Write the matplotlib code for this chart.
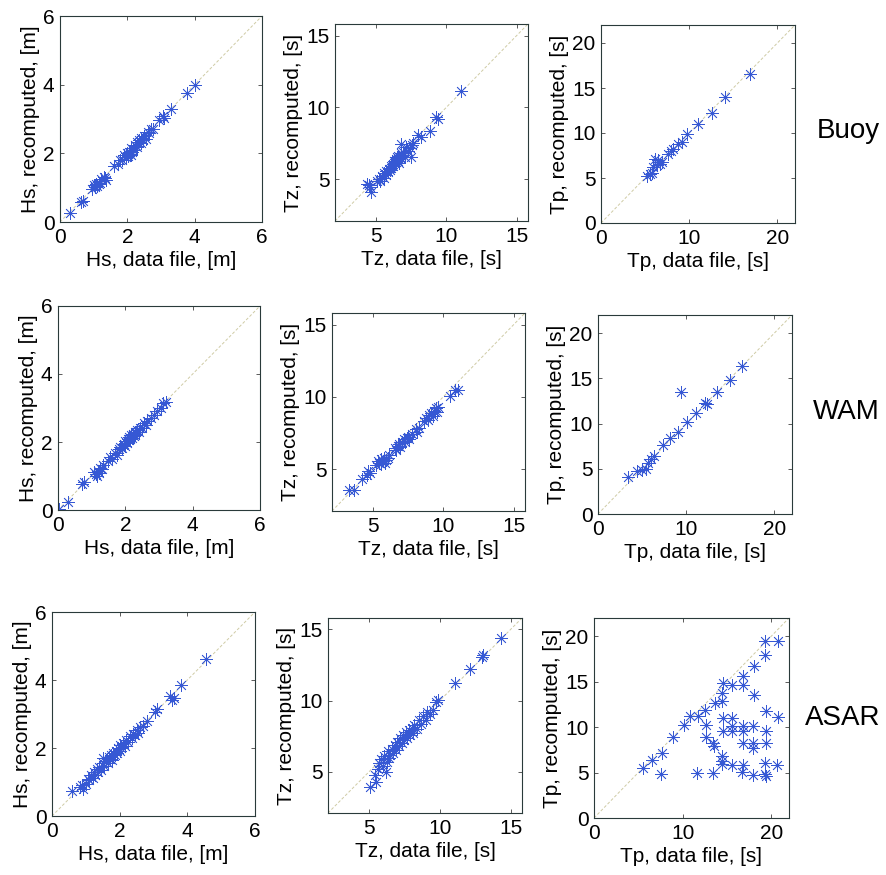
import numpy as np
import matplotlib.pyplot as plt

plt.rcParams['font.family'] = ['Liberation Sans', 'DejaVu Sans']

# Buoy
buoy_hs_x = [0.30, 0.62, 0.68, 0.95, 1.02, 1.05, 1.08, 1.10, 1.15, 1.18, 1.22, 1.30, 1.35, 1.38,
             1.60, 1.72, 1.78, 1.85, 1.90, 1.95, 2.00, 2.02, 2.05, 2.08, 2.10, 2.12, 2.15, 2.18,
             2.22, 2.25, 2.28, 2.30, 2.35, 2.40, 2.42, 2.48, 2.50, 2.55, 2.60, 2.65, 2.70, 2.75,
             2.95, 3.05, 3.10, 3.30, 3.78, 4.00]
buoy_hs_y = [0.27, 0.58, 0.62, 0.95, 1.08, 1.02, 1.12, 1.05, 1.10, 1.15, 1.25, 1.30, 1.28, 1.22,
             1.62, 1.68, 1.82, 1.80, 1.95, 1.88, 2.02, 1.92, 2.05, 1.98, 2.15, 1.95, 2.05, 2.10,
             2.25, 2.20, 2.32, 2.18, 2.38, 2.30, 2.45, 2.38, 2.50, 2.42, 2.62, 2.58, 2.72, 2.70,
             2.98, 3.08, 3.02, 3.30, 3.75, 3.98]
buoy_tz_x = [4.35, 4.55, 4.68, 4.50, 5.05, 5.25, 5.30, 5.45, 5.55, 5.60, 5.70, 5.75, 5.85, 5.90,
             6.00, 6.05, 6.10, 6.20, 6.25, 6.30, 6.35, 6.40, 6.45, 6.50, 6.55, 6.60, 6.65, 6.70,
             6.75, 6.80, 6.80, 6.90, 6.95, 7.05, 7.15, 7.25, 7.45, 7.50, 7.55, 7.65, 8.00, 8.20,
             8.85, 9.30, 9.40, 11.05]
buoy_tz_y = [4.70, 4.45, 4.10, 4.60, 4.85, 5.05, 4.90, 5.20, 5.10, 5.45, 5.30, 5.60, 5.50, 5.75,
             5.65, 5.95, 5.80, 6.05, 5.90, 6.25, 6.10, 6.40, 6.20, 6.55, 6.30, 6.65, 6.15, 6.45,
             6.85, 6.60, 7.45, 6.90, 6.70, 6.55, 7.25, 7.00, 7.15, 6.55, 7.40, 7.55, 8.10, 7.95,
             8.35, 9.30, 9.20, 11.15]
buoy_tp_x = [5.25, 5.50, 5.80, 5.95, 6.10, 6.30, 6.50, 6.70, 6.90, 7.60, 7.90, 8.20, 8.75, 9.20,
             9.80, 11.05, 12.55, 14.05, 16.90]
buoy_tp_y = [5.20, 5.45, 5.60, 6.25, 7.15, 6.50, 6.95, 6.60, 6.80, 7.70, 8.00, 8.25, 8.80, 9.00,
             9.85, 11.05, 12.25, 14.05, 16.55]

# WAM
wam_hs_x = [0.02, 0.30, 0.72, 0.78, 1.08, 1.12, 1.15, 1.18, 1.22, 1.25, 1.30, 1.35, 1.50, 1.55,
            1.60, 1.70, 1.75, 1.80, 1.85, 1.90, 1.95, 1.98, 2.00, 2.05, 2.08, 2.10, 2.12, 2.15,
            2.18, 2.20, 2.22, 2.25, 2.28, 2.30, 2.32, 2.35, 2.40, 2.45, 2.50, 2.55, 2.60, 2.65,
            2.75, 2.85, 2.95, 3.05, 3.12, 3.20]
wam_hs_y = [0.03, 0.25, 0.76, 0.82, 1.12, 1.05, 1.00, 1.15, 1.08, 1.25, 1.22, 1.32, 1.45, 1.55,
            1.50, 1.68, 1.62, 1.78, 1.85, 1.82, 1.95, 1.88, 2.02, 1.98, 2.10, 2.05, 2.15, 2.08,
            2.20, 2.12, 2.25, 2.18, 2.30, 2.22, 2.28, 2.35, 2.30, 2.42, 2.40, 2.55, 2.50, 2.62,
            2.70, 2.80, 2.90, 3.00, 3.15, 3.18]
wam_tz_x = [3.30, 3.65, 4.20, 4.55, 4.65, 4.80, 5.20, 5.35, 5.45, 5.55, 5.60, 5.70, 5.80, 5.85,
            5.95, 6.05, 6.15, 6.55, 6.65, 6.75, 6.85, 6.95, 7.05, 7.20, 7.30, 7.40, 7.50, 7.60,
            7.75, 8.05, 8.15, 8.25, 8.65, 8.80, 8.90, 9.00, 9.15, 9.25, 9.35, 9.45, 9.55, 9.65,
            10.50, 10.80, 11.05]
wam_tz_y = [3.55, 3.55, 4.30, 4.60, 4.90, 4.75, 5.30, 5.55, 5.40, 5.70, 5.35, 5.55, 5.75, 5.45,
            5.65, 5.80, 5.95, 6.45, 6.30, 6.60, 6.75, 6.50, 6.90, 7.05, 6.85, 7.15, 7.25, 7.05,
            7.40, 7.75, 7.60, 7.85, 8.35, 8.55, 8.40, 8.75, 8.90, 8.65, 9.05, 9.20, 8.95, 9.30,
            10.05, 10.45, 10.50]
wam_tp_x = [3.40, 4.40, 5.00, 5.40, 5.70, 6.05, 6.30, 7.40, 8.15, 9.10, 9.40, 10.10, 11.10, 12.15,
            12.40, 13.50, 15.00, 16.30]
wam_tp_y = [4.10, 4.70, 4.85, 5.00, 5.60, 6.10, 6.40, 7.60, 8.35, 9.10, 13.45, 10.20, 11.15, 12.30,
            12.20, 13.50, 14.80, 16.35]

# ASAR
asar_hs_x = [0.58, 0.82, 0.88, 0.92, 1.00, 1.05, 1.10, 1.15, 1.20, 1.25, 1.28, 1.32, 1.35, 1.40,
             1.45, 1.50, 1.52, 1.55, 1.60, 1.65, 1.68, 1.70, 1.75, 1.78, 1.80, 1.85, 1.88, 1.92,
             1.95, 2.00, 2.02, 2.05, 2.10, 2.15, 2.20, 2.25, 2.30, 2.35, 2.40, 2.45, 2.50, 2.55,
             2.60, 2.70, 2.80, 3.05, 3.10, 3.50, 3.55, 3.60, 3.80, 4.55]
asar_hs_y = [0.75, 0.85, 0.92, 0.80, 0.95, 1.10, 1.05, 1.20, 1.12, 1.30, 1.22, 1.38, 1.28, 1.45,
             1.35, 1.55, 1.70, 1.48, 1.62, 1.55, 1.75, 1.68, 1.80, 1.65, 1.85, 1.78, 1.92, 1.85,
             2.00, 1.92, 2.08, 2.00, 2.15, 2.05, 2.25, 2.18, 2.35, 2.28, 2.42, 2.38, 2.52, 2.45,
             2.62, 2.65, 2.78, 3.05, 3.15, 3.52, 3.42, 3.48, 3.85, 4.62]
asar_tz_x = [5.05, 5.50, 5.45, 5.60, 5.70, 5.85, 5.95, 6.05, 6.20, 6.25, 6.35, 6.40, 6.50, 6.60,
             6.70, 6.80, 6.90, 7.00, 7.10, 7.20, 7.30, 7.40, 7.50, 7.60, 7.70, 7.80, 7.90, 8.00,
             8.10, 8.20, 8.40, 8.50, 8.70, 8.80, 9.00, 9.10, 9.30, 9.50, 9.70, 9.90, 11.05, 12.10,
             12.95, 13.05, 14.30]
asar_tz_y = [3.90, 4.25, 4.75, 5.20, 5.60, 5.90, 5.40, 6.10, 5.00, 5.70, 6.45, 5.95, 6.20, 6.60,
             6.35, 6.85, 6.50, 7.10, 6.80, 7.35, 7.00, 7.60, 7.20, 7.80, 7.40, 7.95, 7.55, 8.10,
             7.75, 8.30, 8.00, 8.60, 8.35, 8.90, 8.60, 9.20, 9.05, 9.35, 9.90, 10.05, 11.20, 12.25,
             13.05, 13.20, 14.40]
asar_tp_x = [5.56, 6.49, 7.62, 7.51, 8.93, 10.14, 10.81, 11.64, 11.75, 12.50, 12.61, 12.61, 13.44,
             13.44, 13.50, 13.63, 14.49, 14.49, 14.56, 14.56, 14.49, 14.49, 14.49, 14.56, 15.62,
             15.62, 15.62, 15.62, 15.62, 16.82, 16.82, 16.82, 16.82, 16.82, 16.82, 16.74, 17.94,
             17.98, 17.94, 17.94, 18.02, 18.02, 19.25, 19.25, 19.37, 19.37, 19.37, 19.25, 19.25,
             19.37, 20.76, 20.76, 20.68]
asar_tp_y = [5.50, 6.42, 7.15, 4.84, 8.91, 10.27, 11.18, 4.95, 11.18, 11.92, 10.27, 8.91, 4.95,
             8.25, 7.88, 12.65, 13.75, 12.83, 11.00, 9.61, 6.78, 6.23, 5.98, 14.85, 14.67,
             11.00, 10.16, 9.61, 5.87, 15.66, 14.67, 10.16, 9.61, 8.25, 5.79, 5.06, 10.16,
             8.25, 7.70, 4.69, 16.76, 13.57, 19.43, 17.97, 11.73, 9.61, 8.25, 6.05, 4.88,
             4.66, 19.43, 11.11, 5.79]

rows = ['Buoy', 'WAM', 'ASAR']
data = [
    [(buoy_hs_x, buoy_hs_y), (buoy_tz_x, buoy_tz_y), (buoy_tp_x, buoy_tp_y)],
    [(wam_hs_x, wam_hs_y), (wam_tz_x, wam_tz_y), (wam_tp_x, wam_tp_y)],
    [(asar_hs_x, asar_hs_y), (asar_tz_x, asar_tz_y), (asar_tp_x, asar_tp_y)],
]
names = [('Hs', '[m]'), ('Tz', '[s]'), ('Tp', '[s]')]
lims = [(0, 6), (2.1, 15.8), (0, 22)]
xticks = [[0, 2, 4, 6], [5, 10, 15], [0, 10, 20]]
yticks = [[0, 2, 4, 6], [5, 10, 15], [0, 5, 10, 15, 20]]

# рамки осей в пикселях: left, right, top, bottom
boxes = [
    [(60, 262, 16, 222), (335, 528, 24, 221), (601, 795, 25, 223)],
    [(58, 260, 306, 510), (332, 525, 313, 511), (598, 792, 315, 514)],
    [(52, 255, 612, 816), (328, 522, 618, 813), (594, 789, 618, 818)],
]
W, H = 886, 875
label_y = [131, 412, 718]

fig = plt.figure(figsize=(W / 100, H / 100), dpi=100)
for i in range(3):
    for j in range(3):
        l, r, t, b = boxes[i][j]
        ax = fig.add_axes([l / W, 1 - b / H, (r - l) / W, (b - t) / H])
        lo, hi = lims[j]
        ax.plot([lo, hi], [lo, hi], color='#cfcba5', lw=0.7, ls=(0, (3, 2)), zorder=1)
        x, y = data[i][j]
        ax.plot(x, y, ls='none', marker=(8, 2, 0), ms=9, mew=0.55, color='#3658d4', zorder=2)
        ax.set_xlim(lo, hi)
        ax.set_ylim(lo, hi)
        ax.set_xticks(xticks[j])
        ax.set_yticks(yticks[j])
        ax.tick_params(direction='in', length=3, width=0.6, top=True, right=True,
                       labelsize=15, pad=4, color='#404040')
        for s in ax.spines.values():
            s.set_linewidth(0.8)
            s.set_color('#2a3a3a')
        n, u = names[j]
        ax.set_xlabel(n + ', data file, ' + u, fontsize=15, labelpad=3)
        ax.set_ylabel(n + ', recomputed, ' + u, fontsize=15, labelpad=2)
    fig.text(880 / W, 1 - label_y[i] / H, rows[i], fontsize=20, ha='right', va='center')

fig.savefig('out.png', dpi=100)
